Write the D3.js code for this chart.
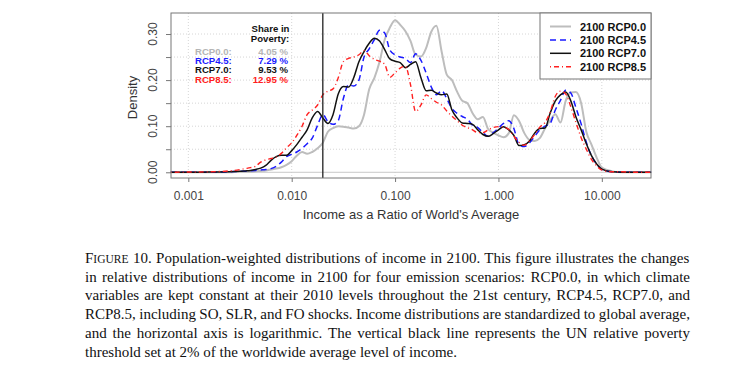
<!DOCTYPE html>
<html>
<head>
<meta charset="utf-8">
<script src="https://cdn.jsdelivr.net/npm/d3@7"></script>
<style>
  html, body { margin: 0; padding: 0; background: #fff; }
  svg { display: block; }
</style>
</head>
<body>
<div id="chart"></div>
<script>
// income as a ratio of world's average (shared x grid for all four densities)
const INCOME = [0.000676, 0.001, 0.00158, 0.00251,
  0.00316, 0.00355, 0.00398, 0.00447, 0.00501, 0.00562, 0.00631, 0.00708, 0.00794, 0.00891,
  0.01, 0.0112, 0.0126, 0.0141, 0.0158, 0.0178, 0.02, 0.0224, 0.0251, 0.0282,
  0.0316, 0.0355, 0.0398, 0.0447, 0.0501, 0.0562, 0.0631, 0.0708, 0.0794, 0.0891,
  0.1, 0.112, 0.126, 0.141, 0.158, 0.178, 0.2, 0.224, 0.251, 0.282,
  0.316, 0.355, 0.398, 0.447, 0.501, 0.562, 0.631, 0.708, 0.794, 0.891,
  1, 1.12, 1.26, 1.41, 1.58, 1.78, 2.0, 2.24, 2.51, 2.82,
  3.16, 3.55, 3.98, 4.47, 5.01, 5.62, 6.31, 7.08, 7.94, 8.91,
  10, 12.6, 15.8, 20, 30];

const RCP00 = [0, 0, 0, 0,
  .001, .001, .001, .002, .003, .004, .006, .008, .011, .016,
  .024, .036, .044, .040, .044, .052, .064, .088, .096, .100,
  .099, .097, .095, .100, .125, .180, .205, .240, .288, .314,
  .330, .320, .306, .285, .255, .251, .270, .305, .318, .262,
  .212, .200, .175, .155, .150, .128, .115, .120, .094, .086,
  .080, .076, .085, .124, .112, .085, .070, .068, .074, .095,
  .112, .126, .108, .155, .173, .174, .150, .088, .060, .032,
  .010, .002, 0, 0, 0];

const RCP45 = [0, 0, 0, .001,
  .002, .002, .003, .004, .005, .006, .008, .013, .022, .034,
  .039, .044, .052, .062, .074, .102, .125, .110, .104, .112,
  .160, .190, .187, .200, .250, .268, .288, .308, .302, .265,
  .255, .250, .247, .238, .257, .243, .215, .185, .168, .177,
  .160, .138, .128, .121, .115, .102, .097, .086, .078, .086,
  .096, .106, .112, .095, .060, .056, .064, .078, .092, .100,
  .106, .135, .156, .178, .172, .140, .105, .065, .036, .018,
  .006, .001, 0, 0, 0];

const RCP70 = [0, 0, .0005, .001,
  .002, .003, .004, .006, .009, .015, .026, .034, .037, .037,
  .047, .060, .076, .092, .118, .132, .118, .106, .125, .170,
  .186, .185, .205, .240, .262, .280, .291, .285, .266, .246,
  .241, .238, .227, .234, .240, .205, .177, .178, .172, .168,
  .170, .135, .118, .107, .106, .104, .092, .082, .078, .084,
  .092, .099, .092, .080, .058, .060, .068, .085, .095, .096,
  .128, .155, .168, .174, .155, .120, .092, .062, .036, .018,
  .007, .001, 0, 0, 0];

const RCP85 = [0, .0005, .001, .003,
  .006, .008, .010, .013, .022, .027, .030, .033, .041, .053,
  .064, .080, .100, .125, .135, .146, .168, .176, .181, .205,
  .240, .247, .250, .255, .264, .253, .245, .241, .234, .206,
  .216, .226, .230, .190, .132, .146, .168, .160, .152, .146,
  .133, .122, .112, .102, .097, .092, .086, .086, .092, .097,
  .099, .098, .093, .078, .065, .059, .068, .082, .098, .108,
  .130, .165, .176, .170, .142, .108, .075, .050, .028, .014,
  .005, .001, .001, 0, 0];

const SERIES = ["2100 RCP0.0", "2100 RCP4.5", "2100 RCP7.0", "2100 RCP8.5"];
const SHARE_LABELS = ["RCP0.0:", "RCP4.5:", "RCP7.0:", "RCP8.5:"];
const SHARE_VALUES = ["4.05 %", "7.29 %", "9.53 %", "12.95 %"];
const X_TICKS = [0.001, 0.01, 0.1, 1, 10];
const X_TICK_LABELS = ["0.001", "0.010", "0.100", "1.000", "10.000"];
const Y_TICKS = [0, 0.1, 0.2, 0.3];
const Y_MINOR = [0, 0.05, 0.1, 0.15, 0.2, 0.25, 0.3];
const POVERTY = 0.02;

const CAPTION = [
  "Population-weighted distributions of income in 2100. This figure illustrates the changes",
  "in relative distributions of income in 2100 for four emission scenarios: RCP0.0, in which climate",
  "variables are kept constant at their 2010 levels throughout the 21st century, RCP4.5, RCP7.0, and",
  "RCP8.5, including SO, SLR, and FO shocks. Income distributions are standardized to global average,",
  "and the horizontal axis is logarithmic. The vertical black line represents the UN relative poverty",
  "threshold set at 2% of the worldwide average level of income."
];

const W = 752, H = 376;
const box = { left: 171, right: 651, top: 13, bottom: 178 };

const svg = d3.select("#chart").append("svg").attr("width", W).attr("height", H)
  .style("font-family", "'Liberation Sans', Arial, sans-serif");

const x = d3.scaleLog().domain([0.00068, 29.9]).range([box.left, box.right]);
const y = d3.scaleLinear().domain([-0.0124, 0.3456]).range([box.bottom, box.top]);

// dotted grid
const grid = svg.append("g").attr("stroke", "#d6d6d6").attr("stroke-dasharray", "1,2");
grid.selectAll(".gy").data(Y_MINOR.slice(1)).join("line")
  .attr("x1", box.left).attr("x2", box.right)
  .attr("y1", d => y(d)).attr("y2", d => y(d));
grid.selectAll(".gx").data(X_TICKS).join("line")
  .attr("x1", d => x(d)).attr("x2", d => x(d))
  .attr("y1", box.top).attr("y2", box.bottom);

// zero line
svg.append("line").attr("x1", box.left).attr("x2", box.right)
  .attr("y1", y(0)).attr("y2", y(0)).attr("stroke", "#c8c8c8").attr("stroke-width", 1);

// curves
const styles = [
  { data: RCP00, color: "#bdbdbd", width: 2, dash: null },
  { data: RCP45, color: "#1a1aff", width: 1.5, dash: "6,4" },
  { data: RCP70, color: "#111", width: 1.5, dash: null },
  { data: RCP85, color: "#ff2020", width: 1.4, dash: "1,3,5,3" }
];
const line = d3.line().x(d => x(d[0])).y(d => y(d[1])).curve(d3.curveMonotoneX);
styles.forEach(s => {
  svg.append("path").datum(INCOME.map((v, i) => [v, s.data[i]]))
    .attr("fill", "none").attr("stroke", s.color).attr("stroke-width", s.width)
    .attr("stroke-dasharray", s.dash).attr("stroke-linejoin", "round")
    .attr("d", line);
});

// poverty threshold
svg.append("line").attr("x1", x(POVERTY)).attr("x2", x(POVERTY))
  .attr("y1", box.top).attr("y2", box.bottom).attr("stroke", "#222").attr("stroke-width", 1.3);

// frame
svg.append("rect").attr("x", box.left).attr("y", box.top)
  .attr("width", box.right - box.left).attr("height", box.bottom - box.top)
  .attr("fill", "none").attr("stroke", "#777");

// axes
const axisCol = "#444";
const xa = svg.append("g").attr("transform", `translate(0,${box.bottom})`)
  .call(d3.axisBottom(x).tickValues(X_TICKS).tickSize(4).tickPadding(9)
    .tickFormat((d, i) => X_TICK_LABELS[i]));
xa.select(".domain").remove();
xa.selectAll("line").attr("stroke", "#777");
xa.selectAll("text").attr("fill", axisCol).attr("font-size", 12)
  .attr("font-family", "'Liberation Sans', Arial, sans-serif");

const ya = svg.append("g").attr("transform", `translate(${box.left},0)`)
  .call(d3.axisLeft(y).tickValues(Y_MINOR).tickSize(5).tickFormat(""));
ya.select(".domain").remove();
ya.selectAll("line").attr("stroke", "#777");
svg.append("g").selectAll("text").data(Y_TICKS).join("text")
  .attr("transform", d => `translate(157,${y(d)}) rotate(-90)`)
  .attr("text-anchor", "middle").attr("font-size", 12).attr("fill", axisCol)
  .text(d => d.toFixed(2));

svg.append("text").attr("transform", `translate(137,${(box.top + box.bottom) / 2 + 2}) rotate(-90)`)
  .attr("text-anchor", "middle").attr("font-size", 13).attr("fill", "#333").text("Density");
svg.append("text").attr("x", (box.left + box.right) / 2).attr("y", 219)
  .attr("text-anchor", "middle").attr("font-size", 13).attr("fill", "#333")
  .text("Income as a Ratio of World's Average");

// share in poverty inset
const inset = svg.append("g").attr("font-weight", "bold").attr("font-size", 9.6);
inset.append("text").attr("x", 270.5).attr("y", 32).attr("text-anchor", "middle")
  .attr("fill", "#111").text("Share in");
inset.append("text").attr("x", 270).attr("y", 42).attr("text-anchor", "middle")
  .attr("fill", "#111").text("Poverty:");
const insetCol = c => c === "#bdbdbd" ? "#b5b5b5" : c;
SHARE_LABELS.forEach((t, i) => {
  inset.append("text").attr("x", 195).attr("y", 55 + i * 9.2)
    .attr("fill", insetCol(styles[i].color)).text(t);
  inset.append("text").attr("x", 288).attr("y", 55 + i * 9.2).attr("text-anchor", "end")
    .attr("fill", insetCol(styles[i].color)).text(SHARE_VALUES[i]);
});

// legend
const lg = svg.append("g");
lg.append("rect").attr("x", 540).attr("y", box.top).attr("width", box.right - 540).attr("height", 66)
  .attr("fill", "#fff").attr("stroke", "#777");
SERIES.forEach((t, i) => {
  const yy = 26.5 + i * 13.4;
  lg.append("line").attr("x1", 550).attr("x2", 571).attr("y1", yy).attr("y2", yy)
    .attr("stroke", styles[i].color).attr("stroke-width", styles[i].width)
    .attr("stroke-dasharray", styles[i].dash);
  lg.append("text").attr("x", 580).attr("y", yy + 4).attr("font-size", 11)
    .attr("font-weight", "bold").attr("fill", "#111").text(t);
});

// caption, justified line by line
const cap = svg.append("g").attr("font-family", "'Liberation Serif', 'Times New Roman', serif")
  .attr("font-size", 15).attr("fill", "#111");
const capLeft = 85, capRight = 690;
CAPTION.forEach((t, i) => {
  const tx = cap.append("text").attr("x", capLeft).attr("y", 263 + i * 18.7);
  if (i === 0) {
    tx.append("tspan").text("F");
    tx.append("tspan").attr("font-size", 11.5).text("IGURE");
    tx.append("tspan").text(" 10.  " + t);
  } else {
    tx.text(t);
  }
  if (i < CAPTION.length - 1) {
    const len = tx.node().getComputedTextLength();
    const spaces = (tx.text().match(/ /g) || []).length;
    tx.attr("word-spacing", (capRight - capLeft - len) / spaces);
  }
});
</script>
</body>
</html>
